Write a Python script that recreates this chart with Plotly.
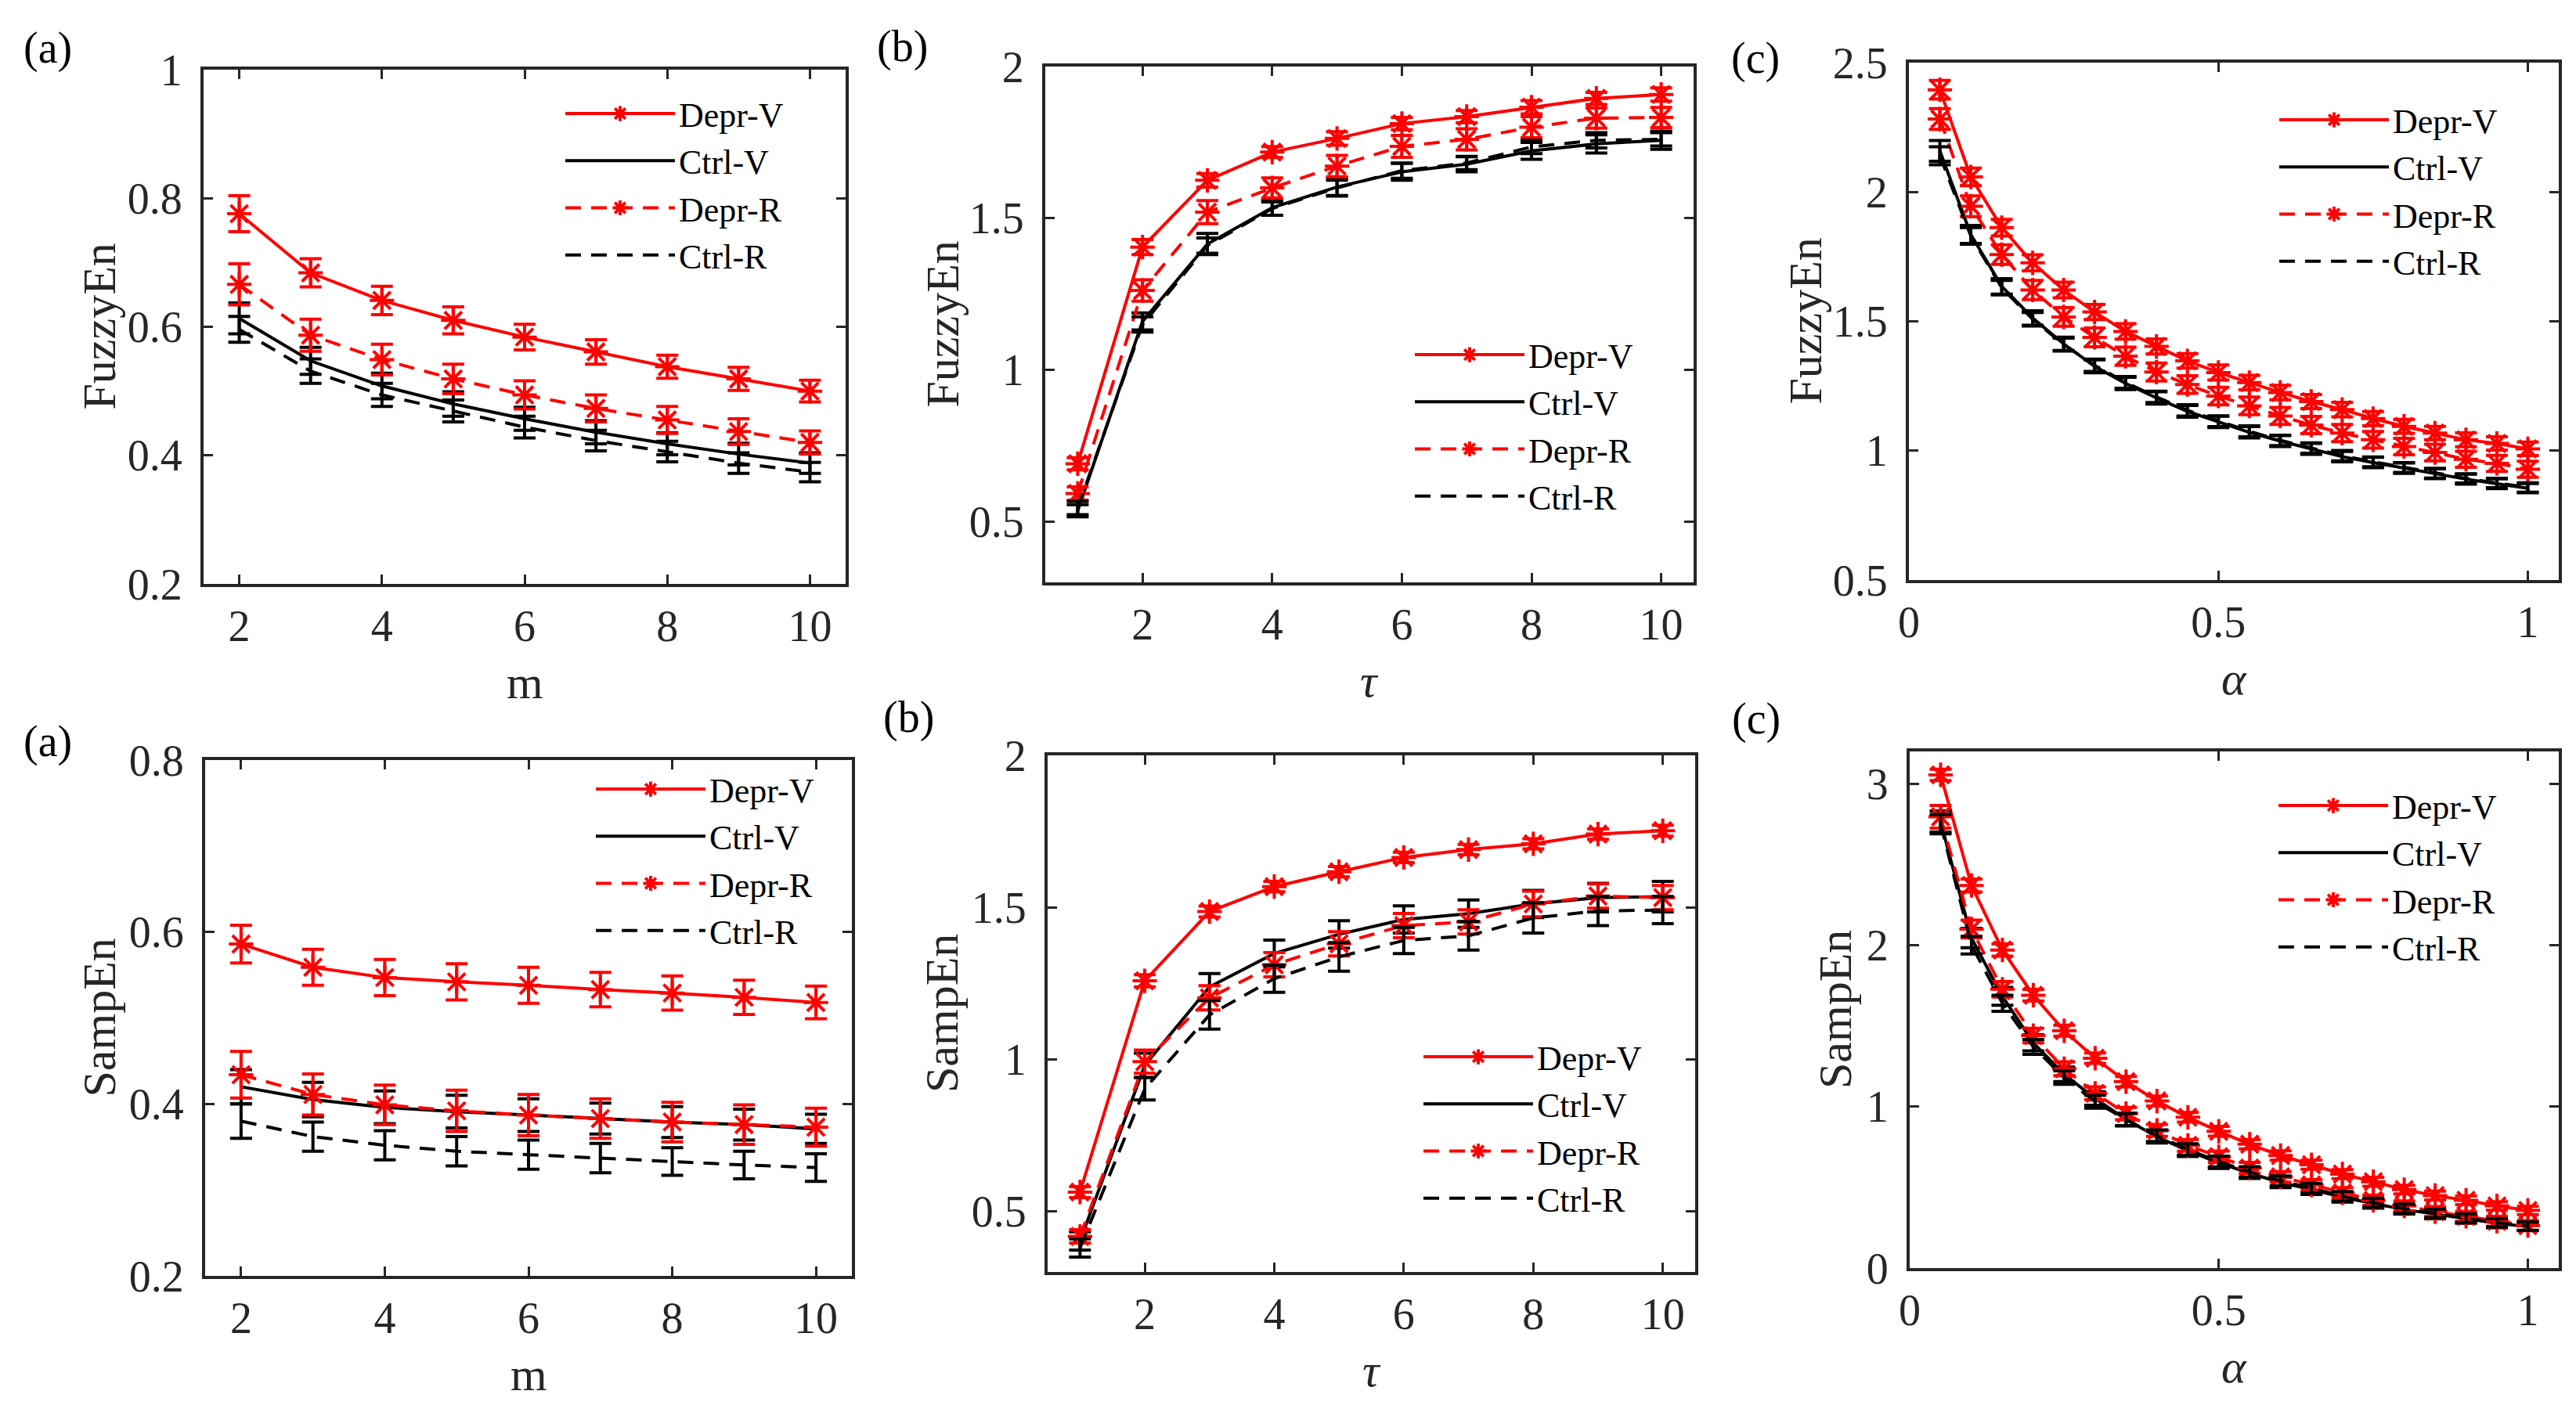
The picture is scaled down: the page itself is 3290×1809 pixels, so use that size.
import plotly.graph_objects as go
from plotly.subplots import make_subplots

W, H = 3290, 1809

# ---- data ----
m_vals = [2, 3, 4, 5, 6, 7, 8, 9, 10]
tau_vals = [1, 2, 3, 4, 5, 6, 7, 8, 9, 10]
alpha_vals = [0.05, 0.10, 0.15, 0.20, 0.25, 0.30, 0.35, 0.40, 0.45, 0.50,
              0.55, 0.60, 0.65, 0.70, 0.75, 0.80, 0.85, 0.90, 0.95, 1.00]

series_names = ["Depr-V", "Ctrl-V", "Depr-R", "Ctrl-R"]

# FuzzyEn vs m
fz_m_depr_v = [0.776, 0.684, 0.641, 0.610, 0.584, 0.561, 0.538, 0.519, 0.500]
fz_m_depr_v_err = [0.028, 0.022, 0.022, 0.021, 0.020, 0.019, 0.018, 0.018, 0.017]
fz_m_ctrl_v = [0.613, 0.547, 0.508, 0.480, 0.457, 0.436, 0.418, 0.402, 0.388]
fz_m_ctrl_v_err = [0.024, 0.021, 0.020, 0.019, 0.018, 0.018, 0.017, 0.017, 0.016]
fz_m_depr_r = [0.666, 0.587, 0.549, 0.519, 0.494, 0.473, 0.455, 0.437, 0.420]
fz_m_depr_r_err = [0.032, 0.025, 0.024, 0.023, 0.022, 0.021, 0.021, 0.020, 0.018]
fz_m_ctrl_r = [0.596, 0.531, 0.494, 0.469, 0.444, 0.423, 0.406, 0.388, 0.374]
fz_m_ctrl_r_err = [0.020, 0.019, 0.018, 0.017, 0.017, 0.016, 0.016, 0.016, 0.015]

# FuzzyEn vs tau
fz_t_depr_v = [0.691, 1.405, 1.625, 1.718, 1.763, 1.812, 1.835, 1.866, 1.895, 1.908]
fz_t_depr_v_err = [0.020, 0.025, 0.022, 0.018, 0.022, 0.020, 0.020, 0.022, 0.020, 0.022]
fz_t_ctrl_v = [0.536, 1.160, 1.415, 1.535, 1.603, 1.653, 1.678, 1.722, 1.745, 1.757]
fz_t_ctrl_v_err = [0.020, 0.028, 0.035, 0.025, 0.030, 0.028, 0.025, 0.028, 0.030, 0.030]
fz_t_depr_r = [0.593, 1.262, 1.520, 1.600, 1.672, 1.737, 1.760, 1.800, 1.830, 1.832]
fz_t_depr_r_err = [0.022, 0.035, 0.038, 0.033, 0.035, 0.036, 0.035, 0.035, 0.033, 0.033]
fz_t_ctrl_r = [0.545, 1.150, 1.410, 1.532, 1.600, 1.657, 1.682, 1.735, 1.757, 1.760]
fz_t_ctrl_r_err = [0.022, 0.025, 0.025, 0.022, 0.025, 0.025, 0.022, 0.022, 0.025, 0.022]

# FuzzyEn vs alpha
fz_a_depr_v = [2.395, 2.058, 1.862, 1.726, 1.621, 1.536, 1.461, 1.403, 1.347, 1.302,
               1.263, 1.225, 1.190, 1.159, 1.124, 1.094, 1.068, 1.042, 1.028, 1.007]
fz_a_depr_v_err = [0.036, 0.034, 0.032, 0.031, 0.030, 0.029, 0.030, 0.029, 0.028, 0.029,
                   0.028, 0.028, 0.027, 0.028, 0.027, 0.027, 0.026, 0.027, 0.026, 0.026]
fz_a_ctrl_v = [2.159, 1.836, 1.635, 1.513, 1.413, 1.326, 1.260, 1.204, 1.152, 1.111,
               1.071, 1.037, 1.007, 0.977, 0.954, 0.932, 0.911, 0.890, 0.872, 0.855]
fz_a_ctrl_v_err = [0.040, 0.035, 0.030, 0.028, 0.026, 0.025, 0.024, 0.024, 0.023, 0.022,
                   0.022, 0.021, 0.021, 0.020, 0.020, 0.020, 0.019, 0.019, 0.019, 0.018]
fz_a_depr_r = [2.282, 1.945, 1.758, 1.621, 1.517, 1.438, 1.365, 1.304, 1.256, 1.211,
               1.173, 1.134, 1.099, 1.068, 1.042, 1.016, 0.993, 0.967, 0.951, 0.928]
fz_a_depr_r_err = [0.040, 0.040, 0.038, 0.037, 0.036, 0.036, 0.035, 0.035, 0.034, 0.034,
                   0.034, 0.033, 0.033, 0.033, 0.032, 0.032, 0.032, 0.031, 0.031, 0.031]
fz_a_ctrl_r = [2.140, 1.830, 1.630, 1.508, 1.410, 1.330, 1.264, 1.208, 1.156, 1.114,
               1.075, 1.040, 1.010, 0.981, 0.957, 0.935, 0.913, 0.893, 0.875, 0.858]
fz_a_ctrl_r_err = [0.035, 0.032, 0.028, 0.026, 0.025, 0.024, 0.023, 0.022, 0.022, 0.021,
                   0.021, 0.020, 0.020, 0.020, 0.019, 0.019, 0.019, 0.018, 0.018, 0.018]

# SampEn vs m
se_m_depr_v = [0.586, 0.559, 0.547, 0.542, 0.538, 0.533, 0.529, 0.524, 0.518]
se_m_depr_v_err = [0.022, 0.021, 0.021, 0.021, 0.021, 0.020, 0.020, 0.020, 0.019]
se_m_ctrl_v = [0.420, 0.405, 0.396, 0.391, 0.387, 0.383, 0.379, 0.376, 0.371]
se_m_ctrl_v_err = [0.020, 0.020, 0.019, 0.019, 0.019, 0.018, 0.018, 0.018, 0.017]
se_m_depr_r = [0.434, 0.411, 0.399, 0.392, 0.387, 0.383, 0.379, 0.376, 0.373]
se_m_depr_r_err = [0.027, 0.024, 0.023, 0.024, 0.024, 0.023, 0.023, 0.023, 0.022]
se_m_ctrl_r = [0.380, 0.362, 0.352, 0.345, 0.341, 0.337, 0.333, 0.329, 0.326]
se_m_ctrl_r_err = [0.020, 0.017, 0.017, 0.017, 0.017, 0.017, 0.016, 0.016, 0.016]

# SampEn vs tau
se_t_depr_v = [0.563, 1.258, 1.486, 1.568, 1.617, 1.664, 1.690, 1.709, 1.741, 1.752]
se_t_depr_v_err = [0.018, 0.020, 0.018, 0.017, 0.017, 0.017, 0.017, 0.017, 0.017, 0.018]
se_t_ctrl_v = [0.402, 0.980, 1.238, 1.348, 1.411, 1.460, 1.479, 1.511, 1.532, 1.535]
se_t_ctrl_v_err = [0.030, 0.040, 0.044, 0.044, 0.045, 0.045, 0.045, 0.045, 0.047, 0.050]
se_t_depr_r = [0.417, 0.992, 1.202, 1.311, 1.380, 1.440, 1.452, 1.511, 1.537, 1.532]
se_t_depr_r_err = [0.022, 0.038, 0.040, 0.040, 0.040, 0.040, 0.040, 0.042, 0.040, 0.040]
se_t_ctrl_r = [0.379, 0.903, 1.146, 1.265, 1.337, 1.391, 1.406, 1.465, 1.488, 1.491]
se_t_ctrl_r_err = [0.030, 0.037, 0.047, 0.045, 0.047, 0.043, 0.047, 0.050, 0.048, 0.045]

# SampEn vs alpha
se_a_depr_v = [3.055, 2.370, 1.970, 1.690, 1.470, 1.300, 1.155, 1.035, 0.934, 0.847,
               0.767, 0.697, 0.640, 0.582, 0.535, 0.486, 0.449, 0.420, 0.385, 0.357]
se_a_depr_v_err = [0.035, 0.040, 0.038, 0.036, 0.034, 0.032, 0.032, 0.031, 0.030, 0.030,
                   0.029, 0.029, 0.028, 0.028, 0.028, 0.027, 0.027, 0.027, 0.026, 0.026]
se_a_ctrl_v = [2.766, 2.044, 1.683, 1.395, 1.200, 1.050, 0.920, 0.813, 0.727, 0.652,
               0.588, 0.530, 0.487, 0.438, 0.400, 0.363, 0.334, 0.305, 0.277, 0.257]
se_a_ctrl_v_err = [0.065, 0.060, 0.055, 0.050, 0.045, 0.042, 0.040, 0.038, 0.036, 0.035,
                   0.033, 0.032, 0.031, 0.030, 0.029, 0.028, 0.028, 0.027, 0.027, 0.026]
se_a_depr_r = [2.795, 2.100, 1.727, 1.440, 1.235, 1.082, 0.957, 0.853, 0.760, 0.690,
               0.620, 0.565, 0.515, 0.466, 0.420, 0.385, 0.350, 0.320, 0.290, 0.263]
se_a_depr_r_err = [0.070, 0.055, 0.048, 0.045, 0.043, 0.040, 0.038, 0.037, 0.036, 0.035,
                   0.034, 0.033, 0.033, 0.032, 0.032, 0.031, 0.031, 0.030, 0.030, 0.030]
se_a_ctrl_r = [2.750, 2.000, 1.640, 1.370, 1.180, 1.030, 0.920, 0.820, 0.735, 0.660,
               0.596, 0.540, 0.495, 0.445, 0.405, 0.368, 0.338, 0.309, 0.281, 0.260]
se_a_ctrl_r_err = [0.060, 0.055, 0.050, 0.046, 0.042, 0.040, 0.038, 0.036, 0.035, 0.033,
                   0.032, 0.031, 0.030, 0.029, 0.028, 0.028, 0.027, 0.027, 0.026, 0.026]

# tick labels
m_ticks = [2, 4, 6, 8, 10]
m_ticktext = ["2", "4", "6", "8", "10"]
alpha_ticks = [0, 0.5, 1]
alpha_ticktext = ["0", "0.5", "1"]
fz_m_yticks = [0.2, 0.4, 0.6, 0.8, 1.0]
fz_m_yticktext = ["0.2", "0.4", "0.6", "0.8", "1"]
half_yticks = [0.5, 1.0, 1.5, 2.0]
half_yticktext = ["0.5", "1", "1.5", "2"]
fz_a_yticks = [0.5, 1.0, 1.5, 2.0, 2.5]
fz_a_yticktext = ["0.5", "1", "1.5", "2", "2.5"]
se_m_yticks = [0.2, 0.4, 0.6, 0.8]
se_m_yticktext = ["0.2", "0.4", "0.6", "0.8"]
se_a_yticks = [0, 1, 2, 3]
se_a_yticktext = ["0", "1", "2", "3"]

# ---- styling / layout ----
FONT = "Liberation Serif"
AXC = "#262626"
RED = "#FF0000"
BLK = "#000000"
DASH = "20px,13px"

styles = {
    "Depr-V": dict(color=RED, dash="solid", marker=True),
    "Ctrl-V": dict(color=BLK, dash="solid", marker=False),
    "Depr-R": dict(color=RED, dash=DASH, marker=True),
    "Ctrl-R": dict(color=BLK, dash=DASH, marker=False),
}

# pixel boxes of each axes frame: x0, x1, y0(top), y1(bottom)
panels = [
    dict(row=1, col=1, x=m_vals, xlabel="m", ylabel="FuzzyEn", label="(a)",
         ys=[(fz_m_depr_v, fz_m_depr_v_err), (fz_m_ctrl_v, fz_m_ctrl_v_err),
             (fz_m_depr_r, fz_m_depr_r_err), (fz_m_ctrl_r, fz_m_ctrl_r_err)],
         xr=[1.5, 10.5], yr=[0.2, 1.0], xt=(m_ticks, m_ticktext), yt=(fz_m_yticks, fz_m_yticktext),
         box=(260, 1080, 89, 746), leg=(724, 145), lab=(61, 62), ytx=126),
    dict(row=1, col=2, x=tau_vals, xlabel="<i>τ</i>", ylabel="FuzzyEn", label="(b)",
         ys=[(fz_t_depr_v, fz_t_depr_v_err), (fz_t_ctrl_v, fz_t_ctrl_v_err),
             (fz_t_depr_r, fz_t_depr_r_err), (fz_t_ctrl_r, fz_t_ctrl_r_err)],
         xr=[0.5, 10.5], yr=[0.3, 2.0], xt=(m_ticks, m_ticktext), yt=(half_yticks, half_yticktext),
         box=(1335, 2163, 85, 744), leg=(1809, 453), lab=(1152, 60), ytx=1203),
    dict(row=1, col=3, x=alpha_vals, xlabel="<i>α</i>", ylabel="FuzzyEn", label="(c)",
         ys=[(fz_a_depr_v, fz_a_depr_v_err), (fz_a_ctrl_v, fz_a_ctrl_v_err),
             (fz_a_depr_r, fz_a_depr_r_err), (fz_a_ctrl_r, fz_a_ctrl_r_err)],
         xr=[0, 1.05], yr=[0.5, 2.5], xt=(alpha_ticks, alpha_ticktext), yt=(fz_a_yticks, fz_a_yticktext),
         box=(2438, 3268, 80, 741), leg=(2913, 153), lab=(2242, 74), ytx=2305),
    dict(row=2, col=1, x=m_vals, xlabel="m", ylabel="SampEn", label="(a)",
         ys=[(se_m_depr_v, se_m_depr_v_err), (se_m_ctrl_v, se_m_ctrl_v_err),
             (se_m_depr_r, se_m_depr_r_err), (se_m_ctrl_r, se_m_ctrl_r_err)],
         xr=[1.5, 10.5], yr=[0.2, 0.8], xt=(m_ticks, m_ticktext), yt=(se_m_yticks, se_m_yticktext),
         box=(262, 1088, 971, 1630), leg=(763, 1008), lab=(61, 948), ytx=126),
    dict(row=2, col=2, x=tau_vals, xlabel="<i>τ</i>", ylabel="SampEn", label="(b)",
         ys=[(se_t_depr_v, se_t_depr_v_err), (se_t_ctrl_v, se_t_ctrl_v_err),
             (se_t_depr_r, se_t_depr_r_err), (se_t_ctrl_r, se_t_ctrl_r_err)],
         xr=[0.5, 10.5], yr=[0.3, 2.0], xt=(m_ticks, m_ticktext), yt=(half_yticks, half_yticktext),
         box=(1338, 2165, 965, 1625), leg=(1820, 1350), lab=(1160, 916), ytx=1203),
    dict(row=2, col=3, x=alpha_vals, xlabel="<i>α</i>", ylabel="SampEn", label="(c)",
         ys=[(se_a_depr_v, se_a_depr_v_err), (se_a_ctrl_v, se_a_ctrl_v_err),
             (se_a_depr_r, se_a_depr_r_err), (se_a_ctrl_r, se_a_ctrl_r_err)],
         xr=[0, 1.05], yr=[0, 3.2], xt=(alpha_ticks, alpha_ticktext), yt=(se_a_yticks, se_a_yticktext),
         box=(2439, 3268, 960, 1620), leg=(2912, 1029), lab=(2243, 918), ytx=2344),
]

fig = make_subplots(rows=2, cols=3)

annotations = []
for i, p in enumerate(panels, start=1):
    legend_id = "legend" if i == 1 else f"legend{i}"
    for name, (yv, ev) in zip(series_names, p["ys"]):
        st = styles[name]
        fig.add_trace(
            go.Scatter(
                x=p["x"], y=yv, name=name,
                mode="lines+markers" if st["marker"] else "lines",
                line=dict(color=st["color"], width=4, dash=st["dash"]),
                marker=dict(symbol="asterisk-open", size=26,
                            line=dict(color=st["color"], width=4)),
                error_y=dict(type="data", array=ev, color=st["color"],
                             thickness=4, width=14),
                legend=legend_id,
            ),
            row=p["row"], col=p["col"],
        )

    x0, x1, y0, y1 = p["box"]
    xdom = [x0 / W, x1 / W]
    ydom = [1 - y1 / H, 1 - y0 / H]
    axis_common = dict(
        showline=True, linecolor=AXC, linewidth=4, mirror="ticks",
        ticks="inside", ticklen=12, tickwidth=3, tickcolor=AXC,
        showgrid=False, zeroline=False, automargin=False,
        tickfont=dict(family=FONT, size=56, color=AXC),
    )
    fig.update_xaxes(domain=xdom, range=p["xr"], tickvals=p["xt"][0], ticktext=p["xt"][1],
                     ticklabelstandoff=2, row=p["row"], col=p["col"], **axis_common)
    fig.update_yaxes(domain=ydom, range=p["yr"], tickvals=p["yt"][0], ticktext=p["yt"][1],
                     ticklabelstandoff=12, row=p["row"], col=p["col"], **axis_common)

    lx, ly = p["leg"]
    fig.update_layout({
        legend_id: dict(
            x=(lx - 7) / W, y=1 - (ly - 35) / H, xanchor="left", yanchor="top",
            xref="paper", yref="paper",
            font=dict(family=FONT, size=44, color=BLK),
            bgcolor="rgba(0,0,0,0)", borderwidth=0,
            itemwidth=140, tracegroupgap=0,
        )
    })

    # axis titles and panel label
    annotations.append(dict(
        x=(x0 + x1) / 2 / W, y=1 - (y1 + 126) / H, xref="paper", yref="paper",
        text=p["xlabel"], showarrow=False, xanchor="center", yanchor="middle",
        font=dict(family=FONT, size=60, color=AXC),
    ))
    annotations.append(dict(
        x=p["ytx"] / W, y=1 - (y0 + y1) / 2 / H, xref="paper", yref="paper",
        text=p["ylabel"], showarrow=False, textangle=-90, xanchor="center", yanchor="middle",
        font=dict(family=FONT, size=60, color=AXC),
    ))
    annotations.append(dict(
        x=p["lab"][0] / W, y=1 - p["lab"][1] / H, xref="paper", yref="paper",
        text=p["label"], showarrow=False, xanchor="center", yanchor="middle",
        font=dict(family=FONT, size=56, color=BLK),
    ))

fig.update_layout(
    width=W, height=H,
    margin=dict(l=0, r=0, t=0, b=0, autoexpand=False),
    paper_bgcolor="white", plot_bgcolor="white",
    annotations=annotations,
    showlegend=True,
)

fig.write_html("out.html", config={"displayModeBar": False},
               post_script="document.body.style.margin='0';")
